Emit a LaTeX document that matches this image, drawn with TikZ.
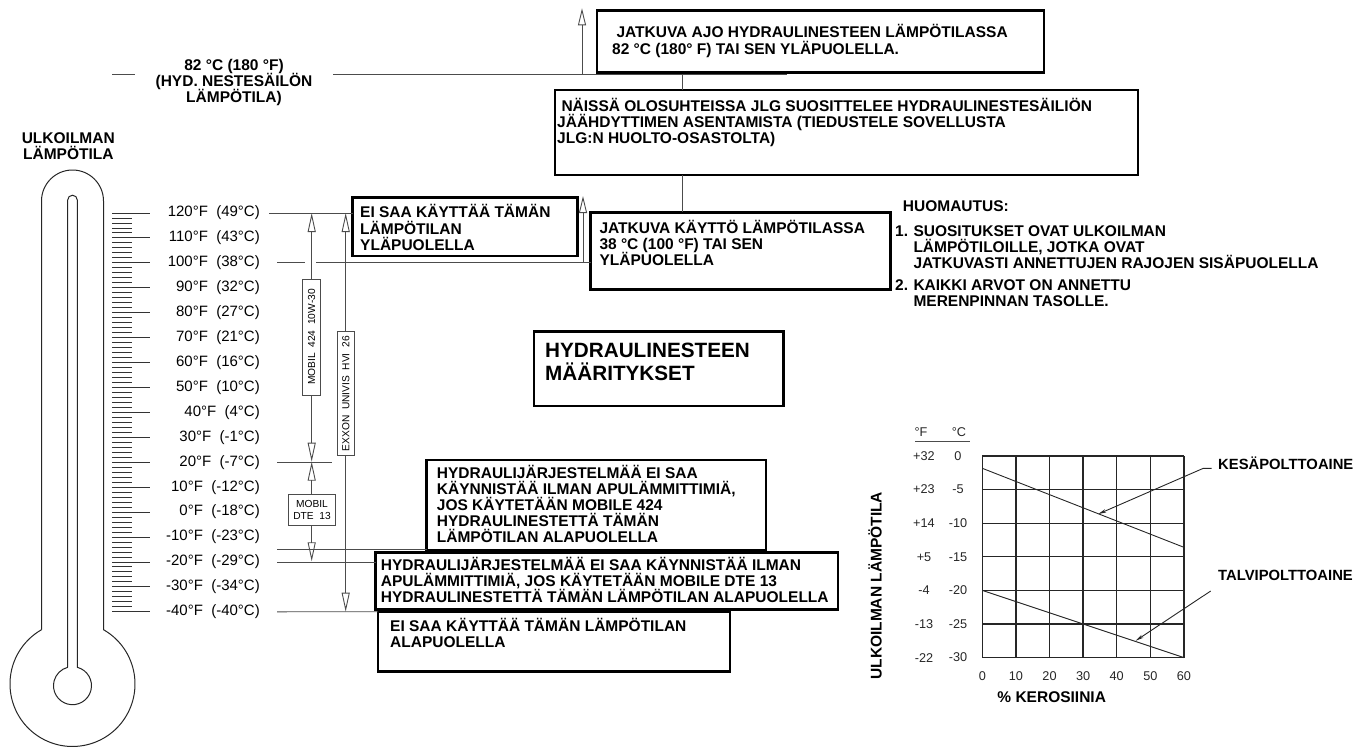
\documentclass[tikz,border=0pt]{standalone}
\usepackage{fontspec}
\setmainfont{Liberation Sans}
\usetikzlibrary{arrows.meta,positioning}

\newcommand{\bigbold}{\bfseries\fontsize{15.5}{16.1}\selectfont\lineskiplimit=-20pt\lineskip=0pt}
\newcommand{\fuelbold}{\bfseries\fontsize{14.8}{16}\selectfont}
\newcommand{\titlebold}{\bfseries\fontsize{20.7}{22.7}\selectfont\lineskiplimit=-20pt\lineskip=0pt}
\newcommand{\capstrut}{\rule{0pt}{15pt}}

\begin{document}
\begin{tikzpicture}[x=1pt,y=-1pt,
    leader/.style={draw=black!70,line width=0.9pt},
    scaletick/.style={draw=black!80,line width=0.9pt},
    tubeline/.style={draw=black!85,line width=1pt},
    warnbox/.style={draw,line width=2.5pt,inner sep=0pt,outer sep=0pt,anchor=north west},
    warntext/.style={anchor=north west,inner sep=0pt,align=left,font=\bigbold},
    headtext/.style={anchor=north,inner sep=0pt,align=center,font=\bigbold},
    templabel/.style={anchor=east,inner sep=0pt,font=\fontsize{15}{17}\selectfont},
    oilbox/.style={draw=black!70,line width=0.9pt,fill=white,inner sep=0pt,outer sep=0pt,font=\fontsize{10.2}{12.6}\selectfont},
    rangearrow/.style={leader,{Triangle[open,length=19pt,width=8pt]}-{Triangle[open,length=19pt,width=8pt]}},
    uparrow/.style={leader,-{Triangle[open,length=17pt,width=8pt]}},
    gridline/.style={draw=black!85,line width=1.3pt},
    chartlabel/.style={inner sep=0pt,text=black!85,font=\fontsize{12.7}{15}\selectfont},
    fuelleader/.style={draw=black!85,line width=0.9pt,-{Stealth[length=8pt,width=3.5pt]}}]
    \useasboundingbox (0,0) rectangle (1364,747);

    % thermometer
    \draw[tubeline] (41.5,629.7) -- (41.5,201) arc[start angle=180,end angle=360,radius=31]
        -- (103.5,629.7) arc[start angle=-60.26,end angle=240.26,radius=62.5];
    \draw[tubeline] (67.7,667.3) -- (67.7,200) arc[start angle=180,end angle=360,radius=4.8]
        -- (77.3,667.3) arc[start angle=-75.36,end angle=255.36,radius=19];
    \node[headtext] (airTemp) at (68.3,127.8) {\capstrut ULKOILMAN\\LÄMPÖTILA};

    % scale
    \foreach \f in {118,116,...,-38} {
        \pgfmathsetmacro{\ty}{213+(120-\f)*2.4925}
        \draw[scaletick] (112.3,\ty) -- (131.7,\ty);
    }
    \foreach \f/\c in {120/49,110/43,100/38,90/32,80/27,70/21,60/16,50/10,40/4,30/-1,20/-7,10/-12,0/-18,-10/-23,-20/-29,-30/-34,-40/-40} {
        \pgfmathsetmacro{\ty}{213+(120-\f)*2.4925}
        \draw[scaletick] (112.3,\ty) -- (150,\ty);
        \node[templabel] (lab\f) at (260,\ty) {\f°F~~(\c°C)};
        \coordinate (lv\f) at (277,\ty);
    }

    % hydraulic tank level
    \node[headtext] (hydTank) at (234,55.5) {\capstrut 82 °C (180 °F)\\(HYD. NESTESÄILÖN\\LÄMPÖTILA)};
    \coordinate (hotL1) at (112.3,74.5);
    \coordinate (hotL2) at (333,74.5);
    \coordinate (hotR) at (787,74.5);
    \draw[leader] (hotL1) -- +(22.7,0);
    \draw[leader] (hotL2) -- (hotR);
    \coordinate (hotArrow) at (582,74.5);
    \coordinate (hotTip) at (582,8.3);
    \draw[uparrow] (hotArrow) -- (hotTip);

    % boxes
    \node[warnbox,minimum width=447pt,minimum height=62pt] (hotBox) at (597,10.5) {};
    \node[warntext] (hotText) at (612,22.7) {\capstrut\ JATKUVA AJO HYDRAULINESTEEN LÄMPÖTILASSA\\82 °C (180° F) TAI SEN YLÄPUOLELLA.};
    \node[warnbox,minimum width=583pt,minimum height=85pt] (coolBox) at (555,90) {};
    \node[warntext] (coolText) at (557,96) {\capstrut\ NÄISSÄ OLOSUHTEISSA JLG SUOSITTELEE HYDRAULINESTESÄILIÖN\\JÄÄHDYTTIMEN ASENTAMISTA (TIEDUSTELE SOVELLUSTA\\JLG:N HUOLTO-OSASTOLTA)};
    \node[warnbox,minimum width=224.6pt,minimum height=58.3pt] (aboveBox) at (352.7,197.7) {};
    \node[warntext] (aboveText) at (360,202.7) {\capstrut EI SAA KÄYTTÄÄ TÄMÄN\\LÄMPÖTILAN\\YLÄPUOLELLA};
    \node[warnbox,minimum width=300pt,minimum height=77pt] (contBox) at (590.7,212.3) {};
    \node[warntext] (contText) at (599.3,218.5) {\capstrut JATKUVA KÄYTTÖ LÄMPÖTILASSA\\38 °C (100 °F) TAI SEN\\YLÄPUOLELLA};
    \node[warnbox,minimum width=249.3pt,minimum height=74.3pt] (titleBox) at (534,331.7) {};
    \node[warntext,font=\titlebold] (titleText) at (545,337.3) {\rule{0pt}{20pt}HYDRAULINESTEEN\\MÄÄRITYKSET};
    \node[warnbox,minimum width=339.3pt,minimum height=90pt] (m424Box) at (426.7,460) {};
    \node[warntext] (m424Text) at (436.7,462.8) {\capstrut HYDRAULIJÄRJESTELMÄÄ EI SAA\\KÄYNNISTÄÄ ILMAN APULÄMMITTIMIÄ,\\JOS KÄYTETÄÄN MOBILE 424\\HYDRAULINESTETTÄ TÄMÄN\\LÄMPÖTILAN ALAPUOLELLA};
    \node[warnbox,minimum width=462.3pt,minimum height=57pt] (dteBox) at (375.7,552.3) {};
    \node[warntext] (dteText) at (380.7,555) {\capstrut HYDRAULIJÄRJESTELMÄÄ EI SAA KÄYNNISTÄÄ ILMAN\\APULÄMMITTIMIÄ, JOS KÄYTETÄÄN MOBILE DTE 13\\HYDRAULINESTETTÄ TÄMÄN LÄMPÖTILAN ALAPUOLELLA};
    \node[warnbox,minimum width=352pt,minimum height=60pt] (belowBox) at (378,611.7) {};
    \node[warntext] (belowText) at (390,616) {\capstrut EI SAA KÄYTTÄÄ TÄMÄN LÄMPÖTILAN\\ALAPUOLELLA};

    % links between boxes
    \coordinate (coolLink) at (682,74.5);
    \draw[leader] (coolLink) -- (coolLink |- coolBox.north);
    \draw[leader] (coolLink |- coolBox.south) -- (coolLink |- contBox.north);
    \coordinate (contArrow) at (583,196);
    \draw[uparrow] (contArrow |- lv100) -- (contArrow);

    % level lines
    \draw[leader] ([xshift=-8pt]lv120) -- (lv120 -| aboveBox.west);
    \draw[leader] (lv100) -- +(28,0);
    \draw[leader] ([xshift=39pt]lv100) -- (lv100 -| contBox.west);
    \draw[leader] (lv20) -- +(55,0);
    \coordinate (dteLow) at (277,549);
    \draw[leader] (dteLow) -- (dteLow -| m424Box.west);
    \draw[leader] (lv-20) -- (lv-20 -| dteBox.west);
    \draw[leader] (lv-40) -- (belowBox.north west);

    % oil ranges
    \coordinate (m424Top) at (311.7,213);
    \coordinate (m424Bot) at (311.7,461.7);
    \coordinate (dteBot) at (311.7,561.3);
    \coordinate (exxTop) at (345.7,213);
    \coordinate (exxBot) at (345.7,611.7);
    \draw[rangearrow] (m424Top) -- (m424Bot);
    \draw[rangearrow] (m424Bot) -- (dteBot);
    \draw[rangearrow] (exxTop) -- (exxBot);
    \node[oilbox,rotate=90,minimum width=116pt,minimum height=18pt] (mobil424) at (311.7,337) {MOBIL~~424~~10W-30};
    \node[oilbox,rotate=90,minimum width=124pt,minimum height=17pt] (exxon) at (345.8,393.8) {EXXON~~UNIVIS~~HVI~~26};
    \node[oilbox,align=center,minimum width=46.6pt,minimum height=31.7pt] (mobilDte) at (312,509.8) {MOBIL\\DTE~~13};

    % notes
    \node[warntext] (noteHead) at (902.7,196.5) {\capstrut HUOMAUTUS:};
    \node[warntext] (noteOneNum) at (895,221) {\capstrut 1.};
    \node[warntext] (noteOne) at (913.3,221) {\capstrut SUOSITUKSET OVAT ULKOILMAN\\LÄMPÖTILOILLE, JOTKA OVAT\\JATKUVASTI ANNETTUJEN RAJOJEN SISÄPUOLELLA};
    \node[warntext] (noteTwoNum) at (895,275) {\capstrut 2.};
    \node[warntext] (noteTwo) at (913.3,275) {\capstrut KAIKKI ARVOT ON ANNETTU\\MERENPINNAN TASOLLE.};

    % kerosene chart
    \foreach \i in {0,...,6} {
        \draw[gridline] (982.3+\i*33.6,456) -- ++(0,201.6);
        \draw[gridline] (982.3,456+\i*33.6) -- ++(201.6,0);
    }
    \foreach \i/\fv/\cv in {0/+32/0,1/+23/-5,2/+14/-10,3/+5/-15,4/-4/-20,5/-13/-25,6/-22/-30} {
        \node[chartlabel] (degF\i) at (924,456+\i*33.6) {\fv};
        \node[chartlabel] (degC\i) at (958,456+\i*33.6) {\cv};
    }
    \foreach \i/\p in {0/0,1/10,2/20,3/30,4/40,5/50,6/60} {
        \node[chartlabel] (pct\i) at (982.3+\i*33.6,675.7) {\p};
    }
    \node[chartlabel] (headF) at (921,431.7) {°F};
    \node[chartlabel] (headC) at (959,431.7) {°C};
    \coordinate (ruleL) at (915,441.7);
    \coordinate (ruleR) at (970,441.7);
    \draw[leader] (ruleL) -- (ruleR);
    \node[inner sep=0pt,font=\bigbold] (pctTitle) at (1051.7,697.5) {\% KEROSIINIA};
    \node[inner sep=0pt,font=\bigbold,rotate=90] (airTitle) at (875,585.8) {ULKOILMAN LÄMPÖTILA};
    \coordinate (sumA) at (982.3,468.3);
    \coordinate (sumB) at (1183.9,547.3);
    \coordinate (winA) at (982.3,590.4);
    \coordinate (winB) at (1183.9,657.6);
    \draw[draw=black!85,line width=0.9pt] (sumA) -- (sumB);
    \draw[draw=black!85,line width=0.9pt] (winA) -- (winB);
    \node[inner sep=0pt,anchor=west,font=\fuelbold] (summerLbl) at (1218,463.3) {KESÄPOLTTOAINE};
    \node[inner sep=0pt,anchor=west,font=\fuelbold] (winterLbl) at (1218,575.7) {TALVIPOLTTOAINE};
    \coordinate (sumStart) at (1211.7,468.3);
    \coordinate (sumKnee) at (1203.3,468.3);
    \coordinate (sumTip) at (1098.3,514);
    \coordinate (winStart) at (1210.7,591);
    \coordinate (winTip) at (1135.7,640.7);
    \draw[fuelleader] (sumStart) -- (sumKnee) -- (sumTip);
    \draw[fuelleader] (winStart) -- (winTip);
\end{tikzpicture}
\end{document}
